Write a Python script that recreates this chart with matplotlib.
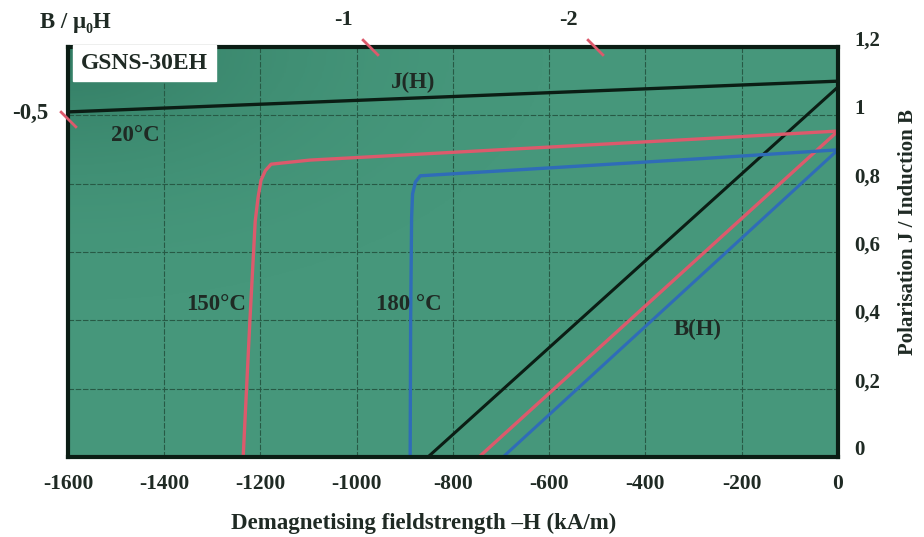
import numpy as np
import matplotlib.pyplot as plt
import matplotlib.transforms as mtransforms
from matplotlib.colors import LinearSegmentedColormap
from matplotlib.path import Path
from matplotlib.ticker import FuncFormatter

# ====================================
# Daten
# ====================================

# 20°C: Polarisation J(H) und Induktion B(H)
h_j20 = [-1600, 0]
j20 = [1.01, 1.10]
h_b20 = [-852, 0]
b20 = [0.0, 1.083]

# 150°C
h_j150 = [-1236, -1222, -1211, -1205, -1199, -1190, -1178, -1097, -287, 0]
j150 = [0.0, 0.40, 0.69, 0.76, 0.81, 0.838, 0.857, 0.869, 0.931, 0.954]
h_b150 = [-746, 0]
b150 = [0.0, 0.954]

# 180°C
h_j180 = [-889, -888, -886, -884, -878, -868, -287, 0]
j180 = [0.0, 0.40, 0.70, 0.77, 0.805, 0.823, 0.873, 0.899]
h_b180 = [-696, 0]
b180 = [0.0, 0.899]

# Arbeitsgeraden B / mu0H: Beschriftung und Austrittspunkt am Rahmen
perm_top_labels = ["-1", "-2"]
perm_top_h = [-972, -505]
perm_left_label = "-0,5"
perm_left_b = 0.99

# Kurvenbeschriftungen (Text, H, B)
curve_labels = ["J(H)", "20°C", "150°C", "180 °C", "B(H)"]
label_h = [-883, -1461, -1292, -891, -291]
label_b = [1.095, 0.942, 0.445, 0.445, 0.372]

x_ticks = [-1600, -1400, -1200, -1000, -800, -600, -400, -200, 0]
y_ticks = [0, 0.2, 0.4, 0.6, 0.8, 1.0, 1.2]

# ====================================
# Stil
# ====================================

plt.rcParams["font.family"] = ["Liberation Serif", "DejaVu Serif"]
plt.rcParams["font.weight"] = "bold"

bg = "#46977b"
grid_col = "#275a45"
red = "#dc5a6c"
blue = "#2f6cb8"
black = "#0b1d14"
text_col = "#1f2a24"

fig = plt.figure(figsize=(9.24, 5.37), dpi=100)
ax = fig.add_axes([0.0736, 0.149, 0.8333, 0.7635])
ax.set_facecolor(bg)

# leichter Verlauf: oben links dunkler
yy, xx = np.mgrid[0:1:200j, 0:1:200j]
shade = np.clip(1.0 - 1.6 * np.hypot(xx, 1 - yy), 0, 1)
shade_cmap = LinearSegmentedColormap.from_list(
    "s", [(0.27, 0.59, 0.48, 0.0), (0.12, 0.38, 0.30, 0.5)])
ax.imshow(shade, extent=[-1600, 0, 0, 1.2], origin="lower", aspect="auto",
          cmap=shade_cmap, zorder=0)

ax.set_xlim(-1600, 0)
ax.set_ylim(0, 1.2)

ax.grid(True, color=grid_col, linewidth=0.8, linestyle=(0, (5, 1.5)))
ax.set_axisbelow(True)

ax.plot(h_j20, j20, color=black, lw=2.4, zorder=3)
ax.plot(h_b20, b20, color=black, lw=2.2, zorder=3)
ax.plot(h_j150, j150, color=red, lw=2.4, zorder=3)
ax.plot(h_b150, b150, color=red, lw=2.4, zorder=3)
ax.plot(h_j180, j180, color=blue, lw=2.4, zorder=3)
ax.plot(h_b180, b180, color=blue, lw=2.2, zorder=3)

for s in ax.spines.values():
    s.set_linewidth(3)
    s.set_color(black)
    s.set_zorder(5)

# Achsen
ax.set_xticks(x_ticks)
ax.set_yticks(y_ticks)
ax.xaxis.set_major_formatter(FuncFormatter(lambda v, p: f"{v:.0f}"))
ax.yaxis.set_major_formatter(FuncFormatter(
    lambda v, p: "0" if v == 0 else ("1" if v == 1 else f"{v:.1f}".replace(".", ","))))
ax.yaxis.tick_right()
ax.yaxis.set_label_position("right")
ax.tick_params(axis="x", length=0, labelsize=15.5, colors=text_col, pad=12)
ax.tick_params(axis="y", length=0, labelsize=15, colors=text_col, pad=12)
for lab in ax.get_yticklabels():
    lab.set_transform(lab.get_transform() + mtransforms.ScaledTranslation(0, 9 / 100, fig.dpi_scale_trans))

ax.set_xlabel("Demagnetising fieldstrength \u2013H (kA/m)", fontsize=16.5,
              fontweight="bold", color=text_col)
ax.xaxis.set_label_coords(0.462, -0.137)
ax.set_ylabel("Polarisation J / Induction B", fontsize=15,
              fontweight="bold", color=text_col)
ax.yaxis.set_label_coords(1.078, 0.549)

# Typenbezeichnung
ax.text(-1573, 1.152, "GSNS-30EH", fontsize=17, fontweight="bold",
        color=text_col, va="center", ha="left", zorder=6,
        bbox=dict(boxstyle="square,pad=0.32", fc="white", ec="white"))

# Kurvenbeschriftungen
for lab, h, b in zip(curve_labels, label_h, label_b):
    ax.text(h, b, lab, fontsize=16.5, color=text_col, ha="center", va="center", zorder=4)

# Arbeitsgeraden-Markierungen
slash = Path([(-1, 1), (1, -1)], [Path.MOVETO, Path.LINETO])
ax.plot(perm_top_h, [1.2] * len(perm_top_h), linestyle="none", marker=slash,
        markersize=12, markeredgewidth=2, markeredgecolor=red, clip_on=False, zorder=6)
ax.plot([-1600], [perm_left_b], linestyle="none", marker=slash,
        markersize=12, markeredgewidth=2, markeredgecolor=red, clip_on=False, zorder=6)

for lab, h in zip(perm_top_labels, perm_top_h):
    ax.annotate(lab, xy=(h, 1.2), xytext=(-19, 19.5), textcoords="offset points",
                fontsize=16, color=text_col, ha="center", va="center", annotation_clip=False)
ax.annotate(perm_left_label, xy=(-1600, perm_left_b), xytext=(-27, 3.5), textcoords="offset points",
            fontsize=16.5, color=text_col, ha="center", va="center", annotation_clip=False)
fig.text(0.043, 0.959, "B / \u03bc\u2080H", fontsize=16.5, fontweight="bold",
         color=text_col, ha="left", va="center")

fig.savefig("out.png", dpi=100, facecolor="white")
